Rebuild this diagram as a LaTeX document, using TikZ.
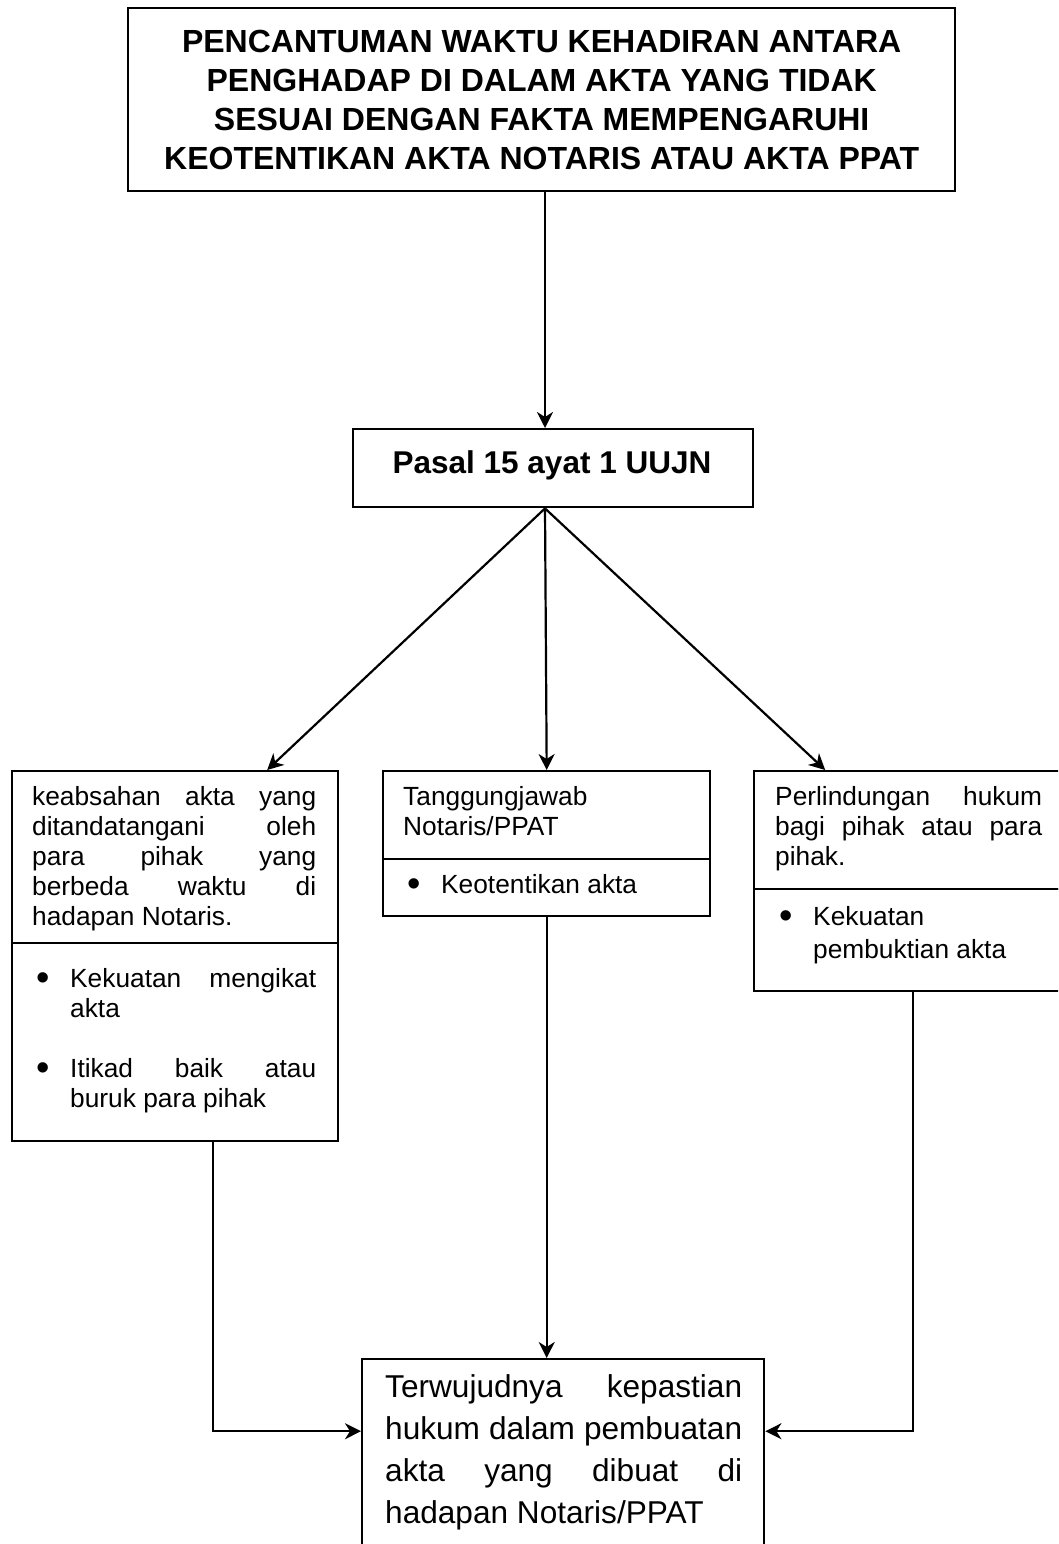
\documentclass[tikz,border=0pt]{standalone}
\usepackage{fontspec}
\setmainfont{Liberation Sans}
\usetikzlibrary{arrows.meta}

\tikzset{
    kotak/.style={draw, line width=2.4pt, inner sep=0pt, anchor=north west},
    teks/.style={inner sep=0pt, anchor=base west, align=justify, font=\fontsize{26.3pt}{30pt}\selectfont},
    panah/.style={line width=2.2pt, -{Stealth[length=16pt,width=16pt,inset=5pt]}},
}
\newcommand{\butir}[1]{\hangindent=38pt\hangafter=1\noindent\hspace*{4pt}%
    \makebox[34pt][l]{\raisebox{-0.12em}{\scalebox{1.45}{\textbullet}}}#1\par}

\begin{document}
\begin{tikzpicture}[x=1pt,y=-1pt]
        \useasboundingbox (0,0) rectangle (1058,1544);
        \clip (0,0) rectangle (1058,1544);
        \coordinate (poros) at (545,0);
        % judul dan pasal
        \node[kotak, minimum width=827pt, minimum height=183pt, align=center,
            font=\fontsize{32pt}{39pt}\selectfont\bfseries] (judul) at (127,7)
            {PENCANTUMAN WAKTU KEHADIRAN ANTARA\\ PENGHADAP DI DALAM AKTA YANG TIDAK\\
             SESUAI DENGAN FAKTA MEMPENGARUHI\\ KEOTENTIKAN AKTA NOTARIS ATAU AKTA PPAT};
        \node[kotak, minimum width=400pt, minimum height=78pt] (pasal) at (352,428) {};
        \node[anchor=base, inner sep=0pt, font=\fontsize{31.5pt}{38pt}\selectfont\bfseries]
            (pasalteks) at (552,473) {Pasal 15 ayat 1 UUJN};
        % tiga kotak tengah
        \node[kotak, minimum width=326pt, minimum height=172pt] (kiriA) at (11,770) {};
        \node[kotak, minimum width=326pt, minimum height=198pt] (kiriB) at (11,942) {};
        \node[kotak, minimum width=327pt, minimum height=88pt] (tengahA) at (382,770) {};
        \node[kotak, minimum width=327pt, minimum height=57pt] (tengahB) at (382,858) {};
        \node[kotak, minimum width=311pt, minimum height=118pt] (kananA) at (753,770) {};
        \node[kotak, minimum width=311pt, minimum height=102pt] (kananB) at (753,888) {};
        \node[teks, text width=284pt] (kiriAteks) at (32,805)
            {keabsahan akta yang\linebreak ditandatangani oleh\linebreak para pihak yang\linebreak
             berbeda waktu di\linebreak hadapan Notaris.};
        \node[teks, text width=284pt] (kiriBteks) at (32,987)
            {\butir{Kekuatan mengikat\linebreak akta}\vspace{30pt}
             \butir{Itikad baik atau\linebreak buruk para pihak}};
        \node[teks, text width=285pt] (tengahAteks) at (403,805) {Tanggungjawab\\ Notaris/PPAT};
        \node[teks, text width=285pt] (tengahBteks) at (403,893) {\butir{Keotentikan akta}};
        \node[teks, text width=267pt] (kananAteks) at (775,805)
            {Perlindungan hukum\linebreak bagi pihak atau para\linebreak pihak.};
        \node[teks, text width=267pt] (kananBteks) at (775,925)
            {\butir{Kekuatan\\[3pt] pembuktian akta}};
        % kotak hasil
        \node[kotak, minimum width=402pt, minimum height=250pt] (hasil) at (361,1358) {};
        \node[teks, text width=357pt, font=\fontsize{31.6pt}{42pt}\selectfont] (hasilteks) at (385,1397)
            {Terwujudnya kepastian\linebreak hukum dalam pembuatan\linebreak akta yang dibuat di\linebreak
             hadapan Notaris/PPAT};
        % panah
        \draw[panah] (judul.south -| poros) -- (pasal.north -| poros);
        \draw[panah] (pasal.south -| poros) -- ([xshift=92pt]kiriA.north);
        \draw[panah] (pasal.south -| poros) -- (tengahA.north);
        \draw[panah] (pasal.south -| poros) -- ([xshift=-84.5pt]kananA.north);
        \draw[panah] ([xshift=38pt]kiriB.south) |- ([yshift=53pt]hasil.west);
        \draw[panah] (tengahB.south) -- (hasil.north -| tengahB.south);
        \draw[panah] ([xshift=3.5pt]kananB.south) |- ([yshift=53pt]hasil.east);
    \end{tikzpicture}
\end{document}
